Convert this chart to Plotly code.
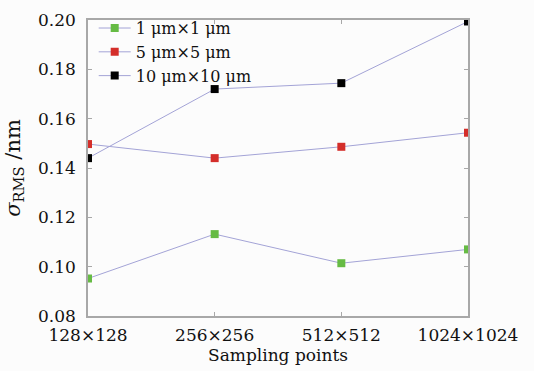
import plotly.graph_objects as go

categories = ["128×128", "256×256", "512×512", "1024×1024"]
series_names = ["1 μm×1 μm", "5 μm×5 μm", "10 μm×10 μm"]
vals_1um = [0.0952, 0.1132, 0.1014, 0.1070]
vals_5um = [0.1497, 0.1440, 0.1486, 0.1543]
vals_10um = [0.1440, 0.1720, 0.1744, 0.1994]
y_ticks = [0.08, 0.10, 0.12, 0.14, 0.16, 0.18, 0.20]

colors = ["#66bb44", "#d42e2a", "#000000"]
line_color = "#a3a3d6"
font_family = "DejaVu Serif"

fig = go.Figure()
for name, vals, c in zip(series_names, [vals_1um, vals_5um, vals_10um], colors):
    fig.add_trace(go.Scatter(
        x=categories, y=vals, name=name, mode="lines+markers",
        line=dict(color=line_color, width=1),
        marker=dict(symbol="square", size=8, color=c, line=dict(width=0)),
    ))

axis_common = dict(
    showline=True, linecolor="#a8a8a8", linewidth=1.5, mirror="ticks",
    ticks="inside", ticklen=4, tickcolor="#a8a8a8", showgrid=False, zeroline=False,
    automargin=False, ticklabeloverflow="allow",
    tickfont=dict(family=font_family, size=17, color="#111111"),
)

fig.update_layout(
    width=534, height=371,
    margin=dict(l=88, r=66, t=11, b=55),
    paper_bgcolor="#fcfcfc", plot_bgcolor="#fcfcfc",
    font=dict(family=font_family, size=17, color="#111111"),
    xaxis=dict(axis_common, type="category", range=[0, 3], ticklabelstandoff=3,
               title=dict(text="Sampling points", font=dict(family=font_family, size=17), standoff=2)),
    yaxis=dict(axis_common, range=[0.08, 0.20], tickvals=y_ticks,
               ticktext=[f"{v:.2f}" for v in y_ticks], ticklabelstandoff=7,
               title=dict(text="<i>σ</i><sub>RMS</sub> /nm", font=dict(family=font_family, size=21), standoff=12)),
    legend=dict(x=0.015, y=1.03, xanchor="left", yanchor="top", bgcolor="rgba(0,0,0,0)",
                font=dict(family=font_family, size=16), tracegroupgap=0, itemwidth=32),
    showlegend=True,
)

fig.write_html("out.html", config={"displayModeBar": False},
               post_script="document.body.style.margin='0';")
